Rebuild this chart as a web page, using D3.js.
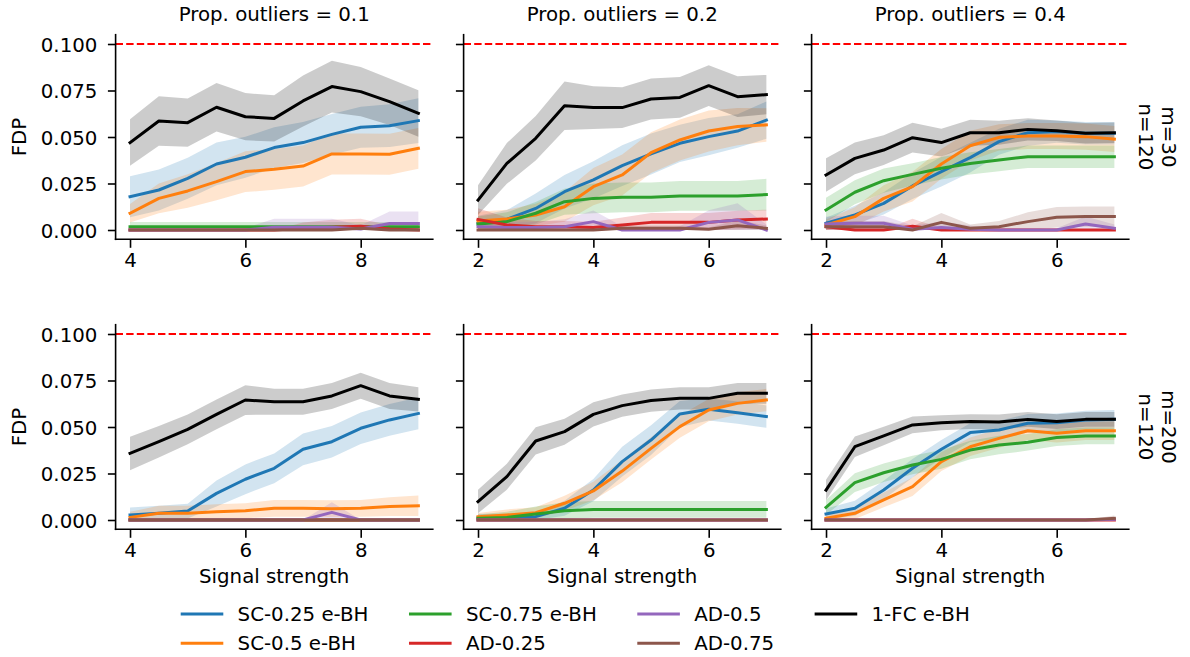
<!DOCTYPE html>
<html>
<head>
<meta charset="utf-8">
<script src="https://cdn.jsdelivr.net/npm/d3@7"></script>
<style>
  html, body { margin: 0; padding: 0; background: #fff; }
  svg { display: block; }
  text { font-family: "DejaVu Sans", sans-serif; font-size: 19.8px; fill: #000; }
</style>
</head>
<body>
<svg id="chart" width="1190" height="657"></svg>
<script>
// ---- data ---------------------------------------------------------------
const methods = ["SC-0.25 e-BH", "SC-0.5 e-BH", "SC-0.75 e-BH", "AD-0.25", "AD-0.5", "AD-0.75", "1-FC e-BH"];
const colors  = ["#1f77b4", "#ff7f0e", "#2ca02c", "#d62728", "#9467bd", "#8c564b", "#000000"];

const signalLow  = [4, 4.5, 5, 5.5, 6, 6.5, 7, 7.5, 8, 8.5, 9];
const signalHigh = [2, 2.5, 3, 3.5, 4, 4.5, 5, 5.5, 6, 6.5, 7];
const xTicksLow  = [4, 6, 8];
const xTicksHigh = [2, 4, 6];
const yTicks     = [0, 0.025, 0.05, 0.075, 0.1];
const nominalLevel = 0.1;

const colTitles = ["Prop. outliers = 0.1", "Prop. outliers = 0.2", "Prop. outliers = 0.4"];
const rowTitles = [["m=30", "n=120"], ["m=200", "n=120"]];

// mean FDP per method (rows follow `methods`), and half-width of the 95% band
// m=30, prop. outliers 0.1
const meanM30P01 = [
  [0.0179, 0.0215, 0.0278, 0.0355, 0.0391, 0.0443, 0.0470, 0.0514, 0.0552, 0.0561, 0.0588],
  [0.0090, 0.0170, 0.0210, 0.0260, 0.0314, 0.0326, 0.0344, 0.0409, 0.0409, 0.0407, 0.0439],
  [0.0018, 0.0018, 0.0018, 0.0018, 0.0018, 0.0018, 0.0018, 0.0018, 0.0018, 0.0018, 0.0018],
  [0, 0, 0, 0, 0, 0, 0.0010, 0.0015, 0.0020, 0.0005, 0],
  [0, 0, 0, 0, 0, 0.0015, 0.0015, 0.0015, 0.0005, 0.0035, 0.0035],
  [0, 0, 0, 0, 0, 0, 0, 0, 0.0010, 0, 0],
  [0.0470, 0.0586, 0.0577, 0.0660, 0.0609, 0.0600, 0.0694, 0.0771, 0.0744, 0.0690, 0.0627]
];
const bandM30P01 = [
  [0.011, 0.011, 0.011, 0.0115, 0.011, 0.011, 0.011, 0.011, 0.011, 0.0115, 0.012],
  [0.005, 0.008, 0.009, 0.010, 0.011, 0.011, 0.011, 0.011, 0.011, 0.011, 0.011],
  [0.0025, 0.0025, 0.0025, 0.0025, 0.0025, 0.0025, 0.0025, 0.0025, 0.0025, 0.0025, 0.0025],
  [0, 0, 0, 0, 0, 0, 0.003, 0.004, 0.004, 0.002, 0.001],
  [0, 0, 0, 0, 0.001, 0.0045, 0.0045, 0.0045, 0.002, 0.0065, 0.0065],
  [0, 0, 0, 0, 0, 0, 0, 0.001, 0.002, 0.001, 0],
  [0.0125, 0.0133, 0.013, 0.013, 0.0127, 0.0124, 0.0137, 0.0139, 0.0132, 0.0125, 0.0125]
];

// m=30, prop. outliers 0.2
const meanM30P02 = [
  [0.0036, 0.0057, 0.0116, 0.0206, 0.0269, 0.0346, 0.0409, 0.0466, 0.0502, 0.0532, 0.0591],
  [0.0048, 0.0059, 0.0081, 0.0125, 0.0233, 0.0296, 0.0416, 0.0484, 0.0532, 0.0556, 0.0565],
  [0.0032, 0.0045, 0.0090, 0.0152, 0.0170, 0.0176, 0.0176, 0.0183, 0.0183, 0.0183, 0.0190],
  [0.0057, 0.0027, 0.0018, 0.0018, 0.0014, 0.0027, 0.0041, 0.0041, 0.0041, 0.0054, 0.0059],
  [0.0018, 0.0014, 0.0014, 0.0018, 0.0045, 0, 0, 0, 0.0041, 0.0054, 0],
  [0, 0, 0, 0, 0, 0.0009, 0.0009, 0.0009, 0.0004, 0.0023, 0.0009],
  [0.0161, 0.0358, 0.0493, 0.0668, 0.0658, 0.0658, 0.0704, 0.0713, 0.0776, 0.0717, 0.0728]
];
const bandM30P02 = [
  [0.004, 0.005, 0.008, 0.009, 0.010, 0.011, 0.011, 0.010, 0.010, 0.009, 0.010],
  [0.005, 0.005, 0.006, 0.008, 0.010, 0.011, 0.011, 0.011, 0.011, 0.010, 0.009],
  [0.004, 0.005, 0.006, 0.007, 0.008, 0.008, 0.008, 0.008, 0.008, 0.008, 0.0085],
  [0.006, 0.004, 0.003, 0.003, 0.003, 0.004, 0.005, 0.005, 0.005, 0.005, 0.005],
  [0.003, 0.003, 0.003, 0.004, 0.006, 0.002, 0, 0.002, 0.0065, 0.009, 0.003],
  [0, 0, 0, 0, 0, 0.0015, 0.0015, 0.0015, 0.001, 0.003, 0.0015],
  [0.008, 0.011, 0.012, 0.013, 0.0115, 0.011, 0.011, 0.011, 0.011, 0.011, 0.0106]
];

// m=30, prop. outliers 0.4
const meanM30P04 = [
  [0.0036, 0.0081, 0.0143, 0.0237, 0.0314, 0.0389, 0.0475, 0.0523, 0.0529, 0.0520, 0.0520],
  [0.0027, 0.0072, 0.0170, 0.0233, 0.0355, 0.0453, 0.0498, 0.0505, 0.0505, 0.0502, 0.0489],
  [0.0108, 0.0203, 0.0265, 0.0299, 0.0332, 0.0358, 0.0376, 0.0394, 0.0394, 0.0394, 0.0394],
  [0.0018, 0, 0, 0.0020, 0, 0, 0, 0, 0, 0, 0],
  [0.0032, 0.0036, 0.0036, 0.0004, 0.0014, 0.0004, 0, 0, 0, 0.0032, 0.0009],
  [0.0018, 0.0018, 0.0018, 0, 0.0041, 0.0009, 0.0018, 0.0045, 0.0068, 0.0072, 0.0072],
  [0.0296, 0.0385, 0.0430, 0.0496, 0.0470, 0.0523, 0.0523, 0.0541, 0.0534, 0.0520, 0.0523]
];
const bandM30P04 = [
  [0.003, 0.005, 0.006, 0.007, 0.008, 0.008, 0.007, 0.007, 0.006, 0.006, 0.006],
  [0.003, 0.005, 0.007, 0.008, 0.008, 0.008, 0.007, 0.007, 0.007, 0.007, 0.007],
  [0.0065, 0.0065, 0.0065, 0.006, 0.006, 0.006, 0.006, 0.006, 0.006, 0.006, 0.006],
  [0.003, 0.001, 0, 0.004, 0.001, 0, 0, 0, 0, 0, 0],
  [0.004, 0.004, 0.004, 0.002, 0.003, 0.002, 0, 0, 0.001, 0.004, 0.002],
  [0.003, 0.003, 0.003, 0.002, 0.005, 0.002, 0.003, 0.005, 0.0055, 0.0055, 0.0055],
  [0.009, 0.0085, 0.008, 0.008, 0.0075, 0.007, 0.0065, 0.006, 0.0055, 0.0055, 0.0055]
];

// m=200, prop. outliers 0.1
const meanM200P01 = [
  [0.0027, 0.0036, 0.0048, 0.0143, 0.0219, 0.0278, 0.0380, 0.0421, 0.0493, 0.0538, 0.0573],
  [0.0014, 0.0036, 0.0036, 0.0045, 0.0050, 0.0063, 0.0063, 0.0061, 0.0063, 0.0072, 0.0077],
  [0, 0, 0, 0, 0, 0, 0, 0, 0, 0, 0],
  [0, 0, 0, 0, 0, 0, 0, 0, 0, 0, 0],
  [0, 0, 0, 0, 0, 0, 0, 0.0041, 0, 0, 0],
  [0, 0, 0, 0, 0, 0, 0, 0, 0, 0, 0],
  [0.0358, 0.0421, 0.0487, 0.0568, 0.0645, 0.0636, 0.0636, 0.0667, 0.0722, 0.0667, 0.0649]
];
const bandM200P01 = [
  [0.004, 0.004, 0.004, 0.007, 0.008, 0.008, 0.0085, 0.0085, 0.0085, 0.0085, 0.0085],
  [0.003, 0.004, 0.004, 0.004, 0.004, 0.0045, 0.0045, 0.0045, 0.0045, 0.005, 0.0055],
  [0, 0, 0, 0, 0, 0, 0, 0, 0, 0, 0],
  [0, 0, 0, 0, 0, 0, 0, 0, 0, 0, 0],
  [0, 0, 0, 0, 0, 0, 0, 0.0055, 0, 0, 0],
  [0, 0, 0, 0, 0, 0, 0, 0, 0, 0, 0],
  [0.009, 0.0085, 0.008, 0.008, 0.008, 0.007, 0.007, 0.007, 0.007, 0.007, 0.0065]
];

// m=200, prop. outliers 0.2
const meanM200P02 = [
  [0.0014, 0.0014, 0.0018, 0.0063, 0.0161, 0.0314, 0.0430, 0.0570, 0.0595, 0.0577, 0.0556],
  [0.0018, 0.0027, 0.0039, 0.0090, 0.0156, 0.0263, 0.0385, 0.0502, 0.0591, 0.0627, 0.0645],
  [0.0009, 0.0014, 0.0032, 0.0050, 0.0057, 0.0057, 0.0057, 0.0057, 0.0057, 0.0057, 0.0057],
  [0, 0, 0, 0, 0, 0, 0, 0, 0, 0, 0],
  [0, 0, 0, 0, 0, 0, 0, 0, 0, 0, 0],
  [0, 0, 0, 0, 0, 0, 0, 0, 0, 0, 0],
  [0.0099, 0.0233, 0.0425, 0.0475, 0.0568, 0.0615, 0.0642, 0.0654, 0.0654, 0.0681, 0.0681]
];
const bandM200P02 = [
  [0.002, 0.002, 0.002, 0.004, 0.006, 0.008, 0.008, 0.007, 0.006, 0.006, 0.006],
  [0.002, 0.003, 0.003, 0.004, 0.005, 0.006, 0.006, 0.006, 0.006, 0.006, 0.006],
  [0.002, 0.003, 0.004, 0.0045, 0.0045, 0.0045, 0.0045, 0.0045, 0.0045, 0.0045, 0.0045],
  [0, 0, 0, 0, 0, 0, 0, 0, 0, 0, 0],
  [0, 0, 0, 0, 0, 0, 0, 0, 0, 0, 0],
  [0, 0, 0, 0, 0, 0, 0, 0, 0, 0, 0],
  [0.0063, 0.007, 0.0073, 0.007, 0.0065, 0.006, 0.006, 0.006, 0.006, 0.0056, 0.0056]
];

// m=200, prop. outliers 0.4
const meanM200P04 = [
  [0.0032, 0.0063, 0.0161, 0.0278, 0.0380, 0.0470, 0.0484, 0.0520, 0.0523, 0.0538, 0.0541],
  [0.0009, 0.0036, 0.0108, 0.0179, 0.0314, 0.0394, 0.0439, 0.0480, 0.0466, 0.0480, 0.0480],
  [0.0068, 0.0201, 0.0254, 0.0296, 0.0326, 0.0376, 0.0403, 0.0418, 0.0443, 0.0452, 0.0452],
  [0, 0, 0, 0, 0, 0, 0, 0, 0, 0, 0],
  [0, 0, 0, 0, 0, 0, 0, 0, 0, 0, 0.0004],
  [0, 0, 0, 0, 0, 0, 0, 0, 0, 0, 0.0009],
  [0.0161, 0.0394, 0.0452, 0.0511, 0.0523, 0.0529, 0.0527, 0.0541, 0.0529, 0.0541, 0.0541]
];
const bandM200P04 = [
  [0.003, 0.004, 0.005, 0.005, 0.005, 0.005, 0.005, 0.005, 0.005, 0.005, 0.005],
  [0.002, 0.003, 0.004, 0.005, 0.005, 0.005, 0.005, 0.005, 0.005, 0.005, 0.005],
  [0.004, 0.005, 0.005, 0.005, 0.005, 0.005, 0.005, 0.0045, 0.0045, 0.0045, 0.0045],
  [0, 0, 0, 0, 0, 0, 0, 0, 0, 0, 0],
  [0, 0, 0, 0, 0, 0, 0, 0, 0, 0, 0.001],
  [0, 0, 0, 0, 0, 0, 0, 0, 0, 0, 0.0015],
  [0.0055, 0.0055, 0.005, 0.0045, 0.004, 0.004, 0.004, 0.004, 0.004, 0.004, 0.004]
];

// ---- layout -------------------------------------------------------------
const svg = d3.select("#chart");
svg.append("rect").attr("width", 1190).attr("height", 657).attr("fill", "#fff");

const panelLefts = [115.6, 463.6, 811.6];
const panelWidth = 317.2;
const rowTops = [34.7, 324.7];
const panelHeight = 204.6;
const tickLen = 7.7;
const spineW = 1.6;

const colSignals = [signalLow, signalHigh, signalHigh];
const colTicks = [xTicksLow, xTicksHigh, xTicksHigh];

const panels = [
  { row: 0, col: 0, mean: meanM30P01,  band: bandM30P01 },
  { row: 0, col: 1, mean: meanM30P02,  band: bandM30P02 },
  { row: 0, col: 2, mean: meanM30P04,  band: bandM30P04 },
  { row: 1, col: 0, mean: meanM200P01, band: bandM200P01 },
  { row: 1, col: 1, mean: meanM200P02, band: bandM200P02 },
  { row: 1, col: 2, mean: meanM200P04, band: bandM200P04 }
];

panels.forEach(p => {
  const xs = colSignals[p.col];
  const left = panelLefts[p.col], top = rowTops[p.row];
  const pad = (xs[xs.length - 1] - xs[0]) * 0.05;
  const x = d3.scaleLinear().domain([xs[0] - pad, xs[xs.length - 1] + pad]).range([left, left + panelWidth]);
  const y = d3.scaleLinear().domain([-0.005, 0.105]).range([top + panelHeight, top]);
  const g = svg.append("g");

  // confidence bands (all underneath the lines)
  const area = d3.area()
    .x((d, i) => x(xs[i]))
    .y0(d => y(Math.max(0, d[0] - d[1])))
    .y1(d => y(d[0] + d[1]));
  p.mean.forEach((m, k) => {
    const pts = m.map((v, i) => [v, p.band[k][i]]);
    g.append("path").attr("d", area(pts))
      .attr("fill", colors[k]).attr("fill-opacity", 0.2).attr("stroke", "none");
  });

  // mean lines
  const line = d3.line().x((d, i) => x(xs[i])).y(d => y(d));
  p.mean.forEach((m, k) => {
    g.append("path").attr("d", line(m))
      .attr("fill", "none").attr("stroke", colors[k]).attr("stroke-width", 3)
      .attr("stroke-linejoin", "round").attr("stroke-linecap", "square");
  });

  // nominal level
  g.append("line")
    .attr("x1", left).attr("x2", left + panelWidth)
    .attr("y1", y(nominalLevel)).attr("y2", y(nominalLevel))
    .attr("stroke", "#ff0000").attr("stroke-width", 2).attr("stroke-dasharray", "7.4,3.2");

  // axes
  const yAxis = d3.axisLeft(y).tickValues(yTicks).tickSize(tickLen).tickPadding(10.5)
    .tickFormat(p.col === 0 ? d3.format(".3f") : () => "");
  const gy = g.append("g").attr("transform", `translate(${left},0)`).call(yAxis);
  const xAxis = d3.axisBottom(x).tickValues(colTicks[p.col]).tickSize(8.5).tickPadding(5)
    .tickFormat(d3.format("d"));
  const gx = g.append("g").attr("transform", `translate(0,${top + panelHeight})`).call(xAxis);

  [gx, gy].forEach(ax => {
    ax.select(".domain").remove();
    ax.selectAll(".tick line").attr("stroke", "#000").attr("stroke-width", spineW);
    ax.selectAll(".tick text").attr("fill", "#000")
      .style("font-family", "DejaVu Sans").style("font-size", "19.8px");
  });
  gy.selectAll(".tick text").attr("dy", "0.36em");
  gx.selectAll(".tick text").attr("dy", "0.71em");

  // spines: left and bottom only
  g.append("line").attr("x1", left).attr("x2", left)
    .attr("y1", top).attr("y2", top + panelHeight)
    .attr("stroke", "#000").attr("stroke-width", spineW).attr("stroke-linecap", "square");
  g.append("line").attr("x1", left).attr("x2", left + panelWidth)
    .attr("y1", top + panelHeight).attr("y2", top + panelHeight)
    .attr("stroke", "#000").attr("stroke-width", spineW).attr("stroke-linecap", "square");

  const cx = left + panelWidth / 2;
  if (p.row === 0) {
    svg.append("text").attr("x", cx).attr("y", 20.7).attr("text-anchor", "middle").text(colTitles[p.col]);
  }
  if (p.row === 1) {
    svg.append("text").attr("x", cx).attr("y", top + panelHeight + 53.4)
      .attr("text-anchor", "middle").text("Signal strength");
  }
  if (p.col === 0) {
    svg.append("text").attr("text-anchor", "middle")
      .attr("transform", `translate(26,${top + panelHeight / 2}) rotate(-90)`).text("FDP");
  }
  if (p.col === 2) {
    const mid = top + panelHeight / 2;
    svg.append("text").attr("text-anchor", "middle")
      .attr("transform", `translate(1162,${mid}) rotate(90)`).text(rowTitles[p.row][0]);
    svg.append("text").attr("text-anchor", "middle")
      .attr("transform", `translate(1138.7,${mid}) rotate(90)`).text(rowTitles[p.row][1]);
  }
});

// ---- legend (4 columns, filled column by column) -------------------------
const legend = svg.append("g");
const legendRows = [614, 643.3];
const nCols = 4;
let hx = 182.2;
for (let c = 0; c < nCols; c++) {
  const items = [2 * c, 2 * c + 1].filter(i => i < methods.length);
  let maxW = 0;
  items.forEach((i, r) => {
    const yy = legendRows[r];
    legend.append("line").attr("x1", hx).attr("x2", hx + 39.6).attr("y1", yy).attr("y2", yy)
      .attr("stroke", colors[i]).attr("stroke-width", 3).attr("stroke-linecap", "square");
    const t = legend.append("text").attr("x", hx + 55.4).attr("y", yy + 6.8).text(methods[i]);
    maxW = Math.max(maxW, t.node().getComputedTextLength());
  });
  hx = hx + 55.4 + maxW + 42;
}
</script>
</body>
</html>
